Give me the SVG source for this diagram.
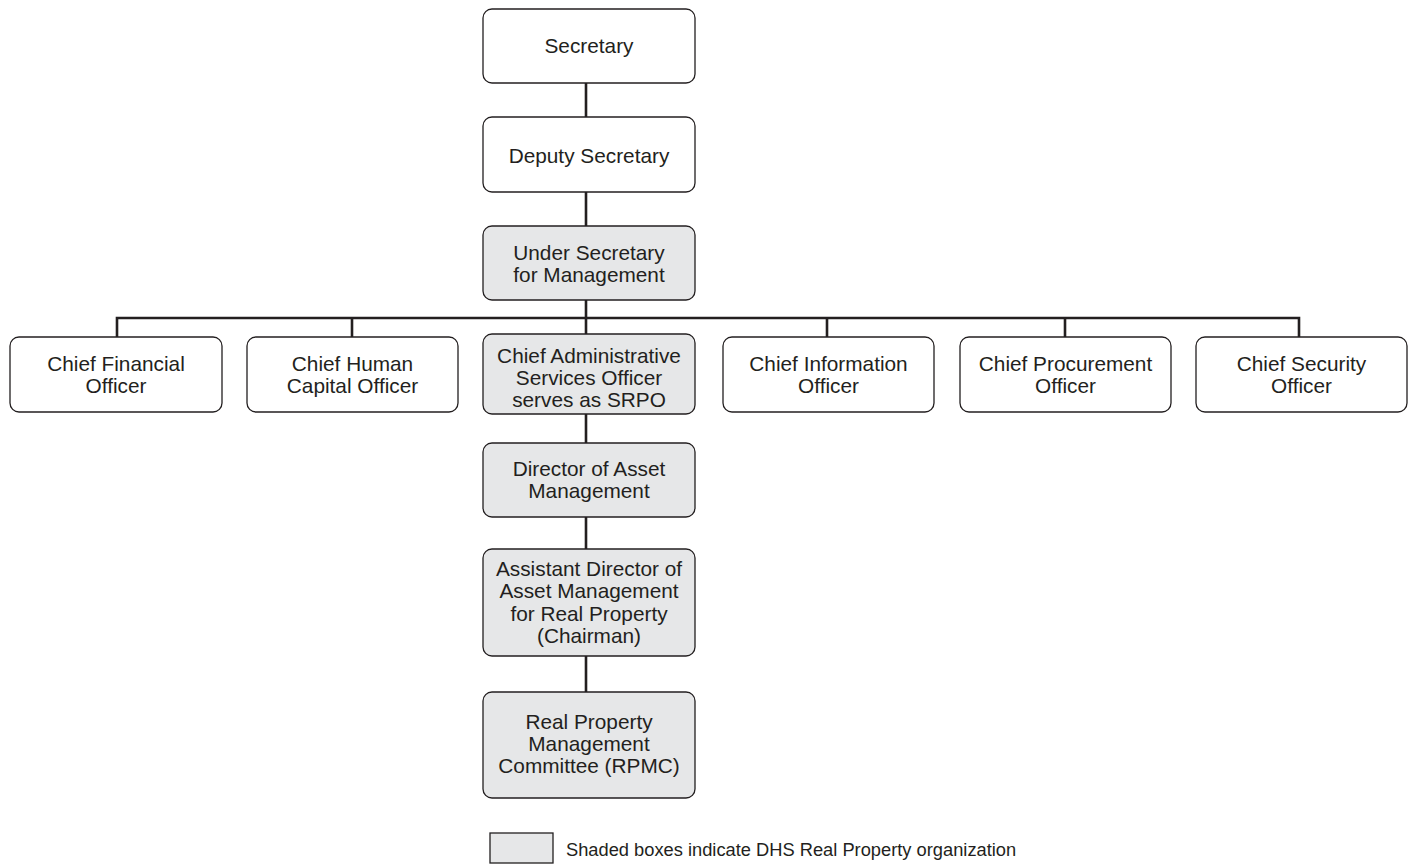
<svg xmlns="http://www.w3.org/2000/svg" width="1412" height="865" viewBox="0 0 1412 865">
<style>
.box{fill:#ffffff;stroke:#231f20;stroke-width:1.3}
.sh{fill:#e6e7e8;stroke:#231f20;stroke-width:1.3}
.t{font-family:"Liberation Sans",Arial,sans-serif;font-size:20.8px;fill:#231f20;text-anchor:middle}
.lg{font-family:"Liberation Sans",Arial,sans-serif;font-size:18.3px;fill:#231f20}
.c{stroke:#231f20;stroke-width:2.6;fill:none}
</style>
<rect width="1412" height="865" fill="#ffffff"/>
<g id="connectors">
<line class="c" x1="586" y1="83" x2="586" y2="117"/>
<line class="c" x1="586" y1="192" x2="586" y2="226"/>
<line class="c" x1="586" y1="300" x2="586" y2="334"/>
<polyline class="c" points="117,337 117,318 1299,318 1299,337"/>
<line class="c" x1="352" y1="318" x2="352" y2="337"/>
<line class="c" x1="827" y1="318" x2="827" y2="337"/>
<line class="c" x1="1065" y1="318" x2="1065" y2="337"/>
<line class="c" x1="586" y1="414" x2="586" y2="443"/>
<line class="c" x1="586" y1="517" x2="586" y2="549"/>
<line class="c" x1="586" y1="656" x2="586" y2="692"/>
</g>
<g id="secretary">
<rect class="box" x="483" y="9" width="212" height="74" rx="9"/>
<text class="t" x="589" y="53">Secretary</text>
</g>
<g id="deputy">
<rect class="box" x="483" y="117" width="212" height="75" rx="9"/>
<text class="t" x="589" y="163">Deputy Secretary</text>
</g>
<g id="under-secretary">
<rect class="sh" x="483" y="226" width="212" height="74" rx="9"/>
<text class="t" x="589" y="260">Under Secretary</text>
<text class="t" x="589" y="282">for Management</text>
</g>
<g id="cfo">
<rect class="box" x="10" y="337" width="212" height="75" rx="9"/>
<text class="t" x="116" y="371">Chief Financial</text>
<text class="t" x="116" y="393">Officer</text>
</g>
<g id="chco">
<rect class="box" x="247" y="337" width="211" height="75" rx="9"/>
<text class="t" x="352.5" y="371">Chief Human</text>
<text class="t" x="352.5" y="393">Capital Officer</text>
</g>
<g id="caso">
<rect class="sh" x="483" y="334" width="212" height="80" rx="9"/>
<text class="t" x="589" y="363">Chief Administrative</text>
<text class="t" x="589" y="385">Services Officer</text>
<text class="t" x="589" y="407">serves as SRPO</text>
</g>
<g id="cio">
<rect class="box" x="723" y="337" width="211" height="75" rx="9"/>
<text class="t" x="828.5" y="371">Chief Information</text>
<text class="t" x="828.5" y="393">Officer</text>
</g>
<g id="cpo">
<rect class="box" x="960" y="337" width="211" height="75" rx="9"/>
<text class="t" x="1065.5" y="371">Chief Procurement</text>
<text class="t" x="1065.5" y="393">Officer</text>
</g>
<g id="cso">
<rect class="box" x="1196" y="337" width="211" height="75" rx="9"/>
<text class="t" x="1301.5" y="371">Chief Security</text>
<text class="t" x="1301.5" y="393">Officer</text>
</g>
<g id="director">
<rect class="sh" x="483" y="443" width="212" height="74" rx="9"/>
<text class="t" x="589" y="476">Director of Asset</text>
<text class="t" x="589" y="498">Management</text>
</g>
<g id="assistant-director">
<rect class="sh" x="483" y="549" width="212" height="107" rx="9"/>
<text class="t" x="589" y="576">Assistant Director of</text>
<text class="t" x="589" y="598">Asset Management</text>
<text class="t" x="589" y="621">for Real Property</text>
<text class="t" x="589" y="643">(Chairman)</text>
</g>
<g id="rpmc">
<rect class="sh" x="483" y="692" width="212" height="106" rx="9"/>
<text class="t" x="589" y="729">Real Property</text>
<text class="t" x="589" y="751">Management</text>
<text class="t" x="589" y="773">Committee (RPMC)</text>
</g>
<g id="legend">
<rect class="sh" x="490" y="833" width="63" height="30" rx="0"/>
<text class="lg" x="566" y="856">Shaded boxes indicate DHS Real Property organization</text>
</g>
</svg>
